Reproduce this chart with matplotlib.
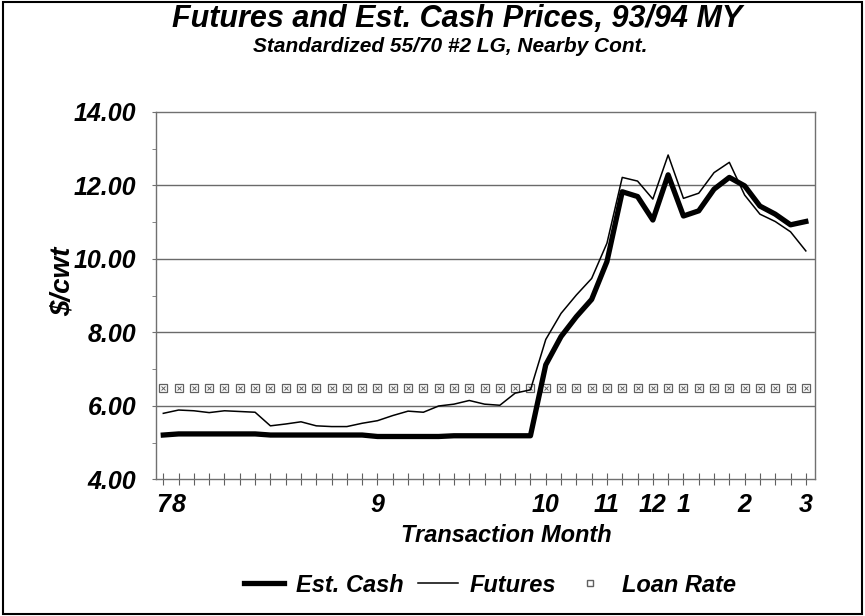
import matplotlib
matplotlib.use('Agg')
import matplotlib.pyplot as plt
from matplotlib.lines import Line2D
from matplotlib.patches import Rectangle

plt.rcParams['font.family'] = ['Liberation Sans', 'DejaVu Sans']

# weekly points, 43 of them
week = list(range(43))
futures = [5.80, 5.89, 5.87, 5.82, 5.87, 5.85, 5.83, 5.46, 5.51, 5.57,
           5.46, 5.44, 5.44, 5.53, 5.60, 5.74, 5.86, 5.83, 6.00, 6.05,
           6.15, 6.05, 6.02, 6.35, 6.44, 7.81, 8.52, 9.02, 9.47, 10.43,
           12.22, 12.12, 11.63, 12.83, 11.65, 11.79, 12.35, 12.63, 11.74, 11.22,
           11.02, 10.74, 10.22]
est_cash = [5.21, 5.24, 5.24, 5.24, 5.24, 5.24, 5.24, 5.21, 5.21, 5.21,
            5.21, 5.21, 5.21, 5.21, 5.17, 5.17, 5.17, 5.17, 5.17, 5.19,
            5.19, 5.19, 5.19, 5.19, 5.19, 7.12, 7.89, 8.43, 8.90, 9.93,
            11.83, 11.70, 11.06, 12.29, 11.17, 11.31, 11.90, 12.22, 11.99, 11.44,
            11.22, 10.93, 11.02]
loan_rate = [6.50, 6.50, 6.50, 6.50, 6.50, 6.50, 6.50, 6.50, 6.50, 6.50,
             6.50, 6.50, 6.50, 6.50, 6.50, 6.50, 6.50, 6.50, 6.50, 6.50,
             6.50, 6.50, 6.50, 6.50, 6.50, 6.50, 6.50, 6.50, 6.50, 6.50,
             6.50, 6.50, 6.50, 6.50, 6.50, 6.50, 6.50, 6.50, 6.50, 6.50,
             6.50, 6.50, 6.50]
month_pos = [0, 1, 14, 25, 29, 32, 34, 38, 42]
month_lab = ['7', '8', '9', '10', '11', '12', '1', '2', '3']

fig = plt.figure(figsize=(8.65, 6.16), dpi=100)
ax = fig.add_axes([0.1803, 0.2216, 0.7619, 0.5966])

for y in [6, 8, 10, 12]:
    ax.axhline(y, color='#6a6a6a', lw=1.0, zorder=1)

ax.plot(week, loan_rate, ls='none', marker='s', ms=6, mfc='white',
        mec='#606060', mew=0.9, zorder=2)
ax.plot(week, loan_rate, ls='none', marker='x', ms=3.5, mec='#606060',
        mew=0.7, zorder=3)
ax.plot(week, futures, color='black', lw=1.1, zorder=4)
ax.plot(week, est_cash, color='black', lw=3.8, zorder=5)

ax.set_xlim(-0.48, 42.6)
ax.set_ylim(4, 14)
ax.set_yticks([4, 6, 8, 10, 12, 14])
ax.set_yticklabels(['4.00', '6.00', '8.00', '10.00', '12.00', '14.00'],
                   fontsize=18, fontweight='bold', fontstyle='italic')
ax.set_yticks([5, 7, 9, 11, 13], minor=True)
ax.tick_params(axis='y', which='both', length=3, color='#707070', pad=11)

ax.set_xticks(week)
labels = [''] * len(week)
for p, l in zip(month_pos, month_lab):
    labels[p] = l
ax.set_xticklabels(labels, fontsize=18, fontweight='bold', fontstyle='italic')
ax.tick_params(axis='x', direction='inout', length=8, color='#606060', pad=6)

for s in ax.spines.values():
    s.set_color('#707070')
    s.set_linewidth(1.0)

fig.text(0.528, 1 - 19 / 616, 'Futures and Est. Cash Prices, 93/94 MY',
         ha='center', va='center', fontsize=22, fontweight='bold', fontstyle='italic')
fig.text(0.52, 1 - 46 / 616, 'Standardized 55/70 #2 LG, Nearby Cont.',
         ha='center', va='center', fontsize=15, fontweight='bold', fontstyle='italic')
fig.text(63 / 865, 1 - 281 / 616, '$/cwt', rotation=90, ha='center', va='center',
         fontsize=20, fontweight='bold', fontstyle='italic')
fig.text(506 / 865, 1 - 535 / 616, 'Transaction Month', ha='center', va='center',
         fontsize=17, fontweight='bold', fontstyle='italic')

handles = [Line2D([], [], color='black', lw=3.8),
           Line2D([], [], color='black', lw=1.1),
           Line2D([], [], ls='none', marker='s', ms=5, mfc='white', mec='#606060')]
leg = fig.legend(handles, ['Est. Cash', 'Futures', 'Loan Rate'], loc='center',
                 bbox_to_anchor=(490 / 865, 1 - 585 / 616), ncol=3, frameon=False,
                 handlelength=1.7, handletextpad=0.5, columnspacing=0.6,
                 prop={'size': 17, 'weight': 'bold', 'style': 'italic'})

fig.patches.append(Rectangle((0.003, 0.004), 0.994, 0.992, transform=fig.transFigure,
                             fill=False, edgecolor='black', lw=1.5))

fig.savefig('out.png', dpi=100)
